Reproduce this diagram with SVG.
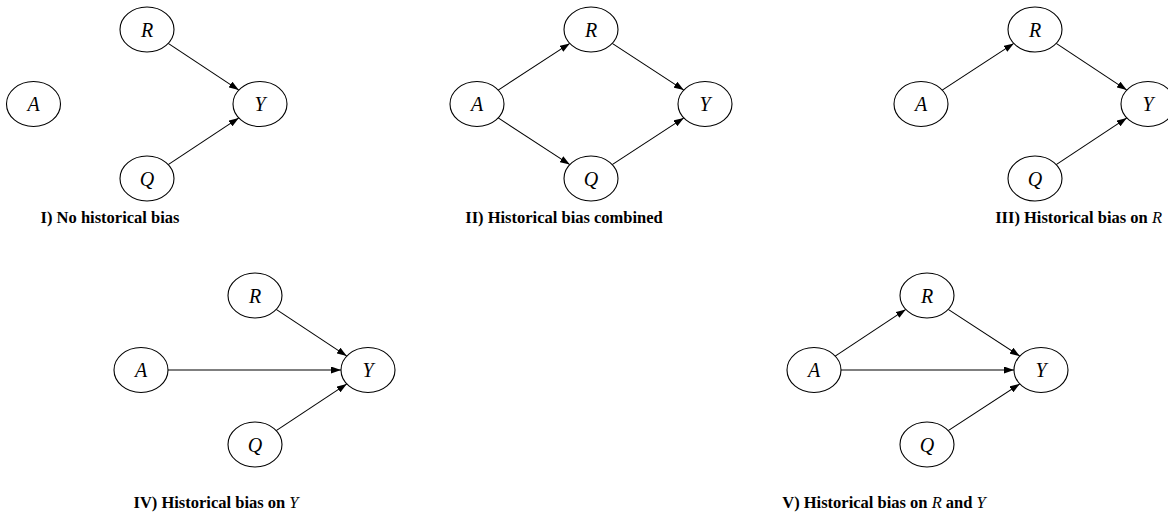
<svg xmlns="http://www.w3.org/2000/svg" width="1168" height="514" viewBox="0 0 1168 514">
<defs>
<marker id="ah" viewBox="0 0 10 7" refX="10" refY="3.5" markerWidth="10" markerHeight="7" markerUnits="userSpaceOnUse" orient="auto">
<path d="M0,0 L10,3.5 L0,7 Z" fill="#000"/>
</marker>
</defs>
<style>
.n ellipse{fill:#fff;stroke:#000;stroke-width:1.1}
.n text{font-family:"Liberation Serif","DejaVu Serif",serif;font-style:italic;font-size:20px;text-anchor:middle;fill:#000}
.e path{fill:none;stroke:#000;stroke-width:1.1;marker-end:url(#ah)}
.cap{font-family:"Liberation Serif","DejaVu Serif",serif;font-weight:bold;font-size:16.5px;fill:#000}
.cap tspan.m{font-style:italic;font-weight:normal}
</style>
<rect width="1168" height="514" fill="#fff"/>
<g id="connectors" class="e">
<path d="M168.2,43.4 L238.8,90.1"/>
<path d="M168.2,164.6 L238.8,117.9"/>
<path d="M498.2,90.1 L569.8,43.4"/>
<path d="M498.2,117.9 L569.8,164.6"/>
<path d="M612.2,43.4 L683.8,90.1"/>
<path d="M612.2,164.6 L683.8,117.9"/>
<path d="M942.2,90.1 L1013.8,43.4"/>
<path d="M1056.2,43.4 L1126.8,90.1"/>
<path d="M1056.2,164.6 L1126.8,117.9"/>
<path d="M168,370 L341,370"/>
<path d="M276.2,309.4 L346.8,356.1"/>
<path d="M276.2,430.6 L346.8,383.9"/>
<path d="M835.2,356.1 L905.8,309.4"/>
<path d="M841,370 L1014,370"/>
<path d="M948.2,309.4 L1019.8,356.1"/>
<path d="M948.2,430.6 L1019.8,383.9"/>
</g>
<g id="p1-A" class="n"><ellipse cx="33.5" cy="104" rx="27" ry="22.5"/><text x="33.5" y="111">A</text></g>
<g id="p1-R" class="n"><ellipse cx="147" cy="29.5" rx="27" ry="22.5"/><text x="147" y="36.5">R</text></g>
<g id="p1-Y" class="n"><ellipse cx="260" cy="104" rx="27" ry="22.5"/><text x="260" y="111">Y</text></g>
<g id="p1-Q" class="n"><ellipse cx="147" cy="178.5" rx="27" ry="22.5"/><text x="147" y="185.5">Q</text></g>
<g id="p2-A" class="n"><ellipse cx="477" cy="104" rx="27" ry="22.5"/><text x="477" y="111">A</text></g>
<g id="p2-R" class="n"><ellipse cx="591" cy="29.5" rx="27" ry="22.5"/><text x="591" y="36.5">R</text></g>
<g id="p2-Y" class="n"><ellipse cx="705" cy="104" rx="27" ry="22.5"/><text x="705" y="111">Y</text></g>
<g id="p2-Q" class="n"><ellipse cx="591" cy="178.5" rx="27" ry="22.5"/><text x="591" y="185.5">Q</text></g>
<g id="p3-A" class="n"><ellipse cx="921" cy="104" rx="27" ry="22.5"/><text x="921" y="111">A</text></g>
<g id="p3-R" class="n"><ellipse cx="1035" cy="29.5" rx="27" ry="22.5"/><text x="1035" y="36.5">R</text></g>
<g id="p3-Y" class="n"><ellipse cx="1148" cy="104" rx="27" ry="22.5"/><text x="1148" y="111">Y</text></g>
<g id="p3-Q" class="n"><ellipse cx="1035" cy="178.5" rx="27" ry="22.5"/><text x="1035" y="185.5">Q</text></g>
<g id="p4-A" class="n"><ellipse cx="141" cy="370" rx="27" ry="22.5"/><text x="141" y="377">A</text></g>
<g id="p4-R" class="n"><ellipse cx="255" cy="295.5" rx="27" ry="22.5"/><text x="255" y="302.5">R</text></g>
<g id="p4-Y" class="n"><ellipse cx="368" cy="370" rx="27" ry="22.5"/><text x="368" y="377">Y</text></g>
<g id="p4-Q" class="n"><ellipse cx="255" cy="444.5" rx="27" ry="22.5"/><text x="255" y="451.5">Q</text></g>
<g id="p5-A" class="n"><ellipse cx="814" cy="370" rx="27" ry="22.5"/><text x="814" y="377">A</text></g>
<g id="p5-R" class="n"><ellipse cx="927" cy="295.5" rx="27" ry="22.5"/><text x="927" y="302.5">R</text></g>
<g id="p5-Y" class="n"><ellipse cx="1041" cy="370" rx="27" ry="22.5"/><text x="1041" y="377">Y</text></g>
<g id="p5-Q" class="n"><ellipse cx="927" cy="444.5" rx="27" ry="22.5"/><text x="927" y="451.5">Q</text></g>
<g id="captions">
<text class="cap" x="110" y="223" text-anchor="middle">I) No historical bias</text>
<text class="cap" x="564" y="223" text-anchor="middle">II) Historical bias combined</text>
<text class="cap" x="1162" y="223" text-anchor="end">III) Historical bias on <tspan class="m">R</tspan></text>
<text class="cap" x="216" y="508" text-anchor="middle">IV) Historical bias on <tspan class="m">Y</tspan></text>
<text class="cap" x="884" y="508" text-anchor="middle">V) Historical bias on <tspan class="m">R</tspan> and <tspan class="m">Y</tspan></text>
</g>
</svg>
